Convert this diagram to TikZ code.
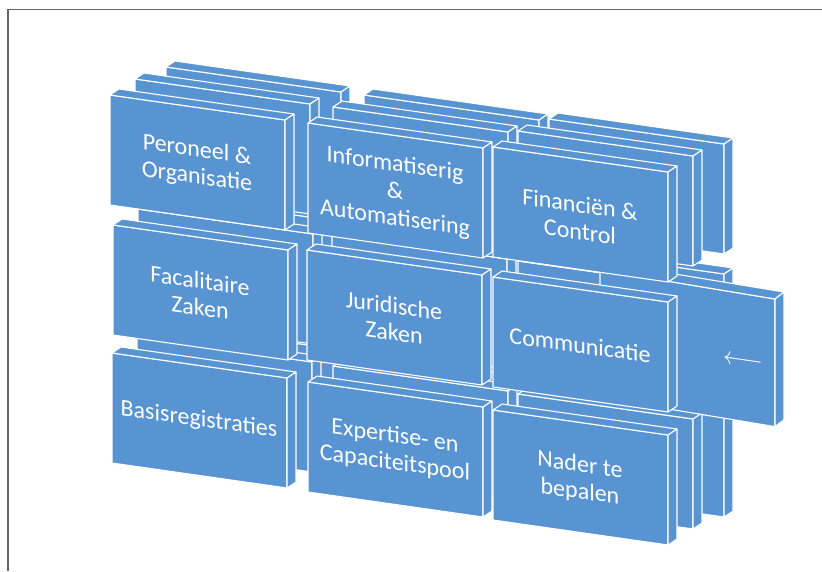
\documentclass[tikz,border=0pt]{standalone}
\usepackage{fontspec}
\setmainfont{Carlito}
\usepackage{tikz}
\definecolor{tileblue}{RGB}{88,148,210}

\begin{document}
\begin{tikzpicture}[
    x=1pt, y=-1pt,
    tile/.style={fill=tileblue, draw=white, line width=1.1pt, line join=round},
    slab/.pic={
      \path[tile] (0,0) -- (175,25) -- (175,135) -- (0,110) -- cycle;
      \path[tile] (0,0) -- (9,-6) -- (184,19) -- (175,25) -- cycle;
      \path[tile] (175,25) -- (184,19) -- (184,129) -- (175,135) -- cycle;
    },
    txt/.style={text=white, align=center, font=\fontsize{24}{27}\selectfont, yslant=-0.14},
    frame/.style={draw=black!60, line width=1.6pt}
  ]
    \useasboundingbox (0,0) rectangle (822,571);
    \draw[frame] (8,571) -- (8,9.5) -- (822,9.5);

    % layers at the back
    \foreach \x/\y in {110/95, 308/123, 493/147, 113/225, 307/250, 493/277, 112/353, 308/382, 493/410}
      \pic at (\x+56,\y-28) {slab};
    \foreach \x/\y in {110/95, 308/123, 493/147, 113/225, 307/250, 493/277, 112/353, 308/382, 493/410}
      \pic at (\x+25,\y-16) {slab};

    % block with the arrow
    \pic[yscale=1.16] at (600,270) {slab};
    \node[txt] (back) at (743,362) {$\longleftarrow$};

    % front blocks
    \foreach \x/\y in {110/95, 308/123, 493/147, 113/225, 307/250, 493/277, 112/353, 308/382, 493/410}
      \pic at (\x,\y) {slab};

    \node[txt] (po) at (197,164) {Peroneel \&\\Organisatie};
    \node[txt] (ia) at (395,192) {Informatiserig\\\&\\Automatisering};
    \node[txt] (fc) at (580,218) {Financiën \&\\Control};
    \node[txt] (fz) at (200,294) {Facalitaire\\Zaken};
    \node[txt] (jz) at (394,319) {Juridische\\Zaken};
    \node[txt] (comm) at (580,345) {Communicatie};
    \node[txt] (basis) at (199,420) {Basisregistraties};
    \node[txt] (exp) at (395,450) {Expertise- en\\Capaciteitspool};
    \node[txt] (nader) at (580,479) {Nader te\\bepalen};
  \end{tikzpicture}
\end{document}
